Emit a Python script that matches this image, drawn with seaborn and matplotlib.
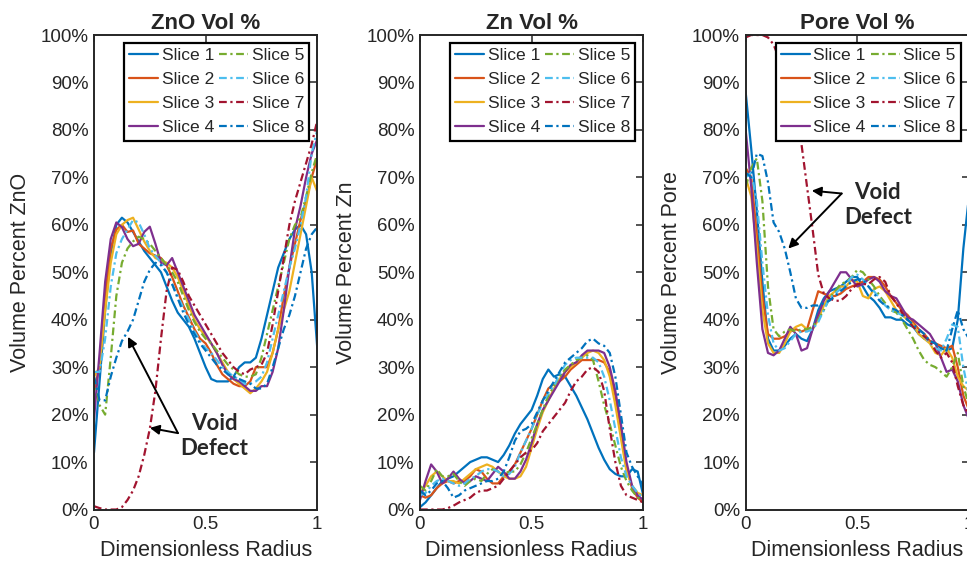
import numpy as np
import pandas as pd
import matplotlib
matplotlib.use("Agg")
import matplotlib.pyplot as plt
from matplotlib.ticker import PercentFormatter
import seaborn as sns

# dimensionless radius sample points
radius = [0.0, 0.025, 0.05, 0.075, 0.1, 0.125, 0.15, 0.175, 0.2, 0.225,
          0.25, 0.275, 0.3, 0.325, 0.35, 0.375, 0.4, 0.425, 0.45, 0.475,
          0.5, 0.525, 0.55, 0.575, 0.6, 0.625, 0.65, 0.675, 0.7, 0.725,
          0.75, 0.775, 0.8, 0.825, 0.85, 0.875, 0.9, 0.925, 0.95, 0.975,
          1.0]

slices = ["Slice 1", "Slice 2", "Slice 3", "Slice 4",
          "Slice 5", "Slice 6", "Slice 7", "Slice 8"]

# ZnO volume percent
zno_s1 = [12, 27, 42, 54, 60, 61.5, 60.5, 58.5, 56.5, 54.5,
          53, 51.5, 50, 47, 44, 41.5, 40, 38.5, 36, 33,
          30, 27.5, 27, 27, 27, 28, 30, 31, 31, 32,
          36, 41, 46, 51, 54, 57, 59, 60, 58, 50,
          34]
zno_s2 = [25, 30, 45, 55, 59, 60, 58.5, 58.8, 56, 55,
          54, 53.5, 53, 51.5, 49, 46, 43, 40.5, 38, 36,
          35, 33, 30.5, 28.5, 27.5, 26.5, 26, 26, 27, 30,
          30, 30, 33, 38, 45, 51, 56, 61, 65, 70,
          74]
zno_s3 = [28, 30, 42, 52, 58, 60, 61, 61.5, 59, 56.5,
          54.5, 53, 52.5, 52, 51, 49, 46, 43, 40, 38,
          36.5, 35, 33, 31, 29, 27.5, 26.5, 25.5, 24.5, 25.5,
          27, 29, 33, 38, 42, 46, 52, 58, 64, 70,
          67]
zno_s4 = [19, 33, 48, 57, 60.5, 59.5, 57, 55.5, 56, 58.5,
          59.6, 56, 52, 51.5, 53, 50, 47, 44, 41, 39,
          37, 35, 33, 30.5, 28.5, 27.5, 27, 26, 25, 25,
          26, 26, 29, 34, 42, 51, 59, 64, 70, 75,
          78]
zno_s5 = [28, 22, 20, 32, 45, 52, 55, 56.5, 57.5, 57,
          56, 54.5, 53, 51.5, 50, 48, 45, 42, 39.5, 37.5,
          36, 35, 33.5, 32, 30.5, 29.5, 28.5, 28, 28, 28.5,
          32, 37, 42, 47, 52, 57, 60, 61.5, 66, 71,
          75]
zno_s6 = [29, 29, 36, 47, 54, 57, 59, 61, 60.5, 58,
          55, 53.5, 52, 50, 47.5, 45, 42.5, 40, 37.5, 35.5,
          34, 33, 31.5, 30, 29, 28, 27.5, 26.5, 26.5, 27,
          28, 31, 36, 41, 46, 51, 55, 60, 66, 75,
          80]
zno_s7 = [0.7, 0.3, 0, 0, 0, 0.5, 2, 4, 7, 11.5,
          17, 25, 36, 46, 51, 50.5, 48, 45, 43, 41,
          39, 37, 35, 33, 31.5, 30, 29, 28.5, 29.5, 30,
          30.5, 33, 39, 46, 53, 60, 65, 69, 73, 77,
          82]
zno_s8 = [28, 23, 23, 28, 32, 35.5, 37.5, 40, 44, 48,
          50.5, 52, 51.5, 50, 47.5, 44.5, 41.5, 39, 37, 35,
          33.5, 32, 30.5, 29.5, 28.5, 28, 27.5, 27, 26.5, 25.5,
          25.5, 26.5, 30, 34, 38, 41, 45, 50, 55, 58,
          59.5]

# Zn volume percent
zn_s1 = [0.5, 1.5, 3, 4.5, 6, 6.5, 7, 8, 9, 10,
         10.5, 11, 11, 10.5, 10, 11.5, 13.5, 16, 18, 19.5,
         21, 24, 27.5, 29.5, 28, 28.5, 28, 26, 24, 21.5,
         19, 16, 13, 10.5, 8.5, 7.5, 7, 7, 8.5, 8,
         3]
zn_s2 = [3, 2.5, 3, 4.5, 5.5, 6, 5.5, 6, 6, 7,
         8.5, 8, 6.5, 5.5, 5.5, 7, 8, 9.5, 12, 14.5,
         17, 20, 23, 25.5, 26.5, 27, 28, 29.5, 30.5, 31.5,
         31.5, 31.5, 31.5, 31, 29, 24, 17, 9, 4.5, 2.5,
         1.5]
zn_s3 = [3.5, 5, 7, 8, 7, 6, 6, 5.5, 6.5, 7.5,
         8.5, 9, 9.5, 9, 8, 7, 6.5, 6.5, 7, 9,
         13, 17, 20.5, 23, 25.5, 27.5, 29, 30, 31, 32,
         33, 33.5, 33, 31.5, 28, 22, 15, 8, 5, 3.5,
         3]
zn_s4 = [2, 6, 9.5, 8, 5.5, 6.5, 8, 6.5, 5.5, 6,
         7, 6.5, 6, 7.5, 9, 8, 6.5, 6.5, 8, 10.5,
         14, 18, 21, 23, 25, 27, 29, 30.5, 31, 32.5,
         33.5, 33.5, 33.5, 33, 30, 25, 18, 10, 5, 3,
         2]
zn_s5 = [5, 4, 6, 8.5, 7, 7, 7.5, 6, 5, 6,
         6.5, 6, 7.5, 8.5, 8, 7.5, 8, 8, 9.5, 12,
         15, 18, 21, 24, 26, 28, 29.5, 30.5, 31.5, 32,
         32.5, 31.5, 27, 22, 18, 13.5, 9, 6, 4, 2.5,
         2]
zn_s6 = [3, 3.5, 5, 6, 6.5, 6, 5.5, 5, 5.5, 6.5,
         7, 8, 8.5, 8.5, 8, 7, 7.5, 9, 12, 14.5,
         17, 20, 22.5, 24.5, 26, 28.5, 30.5, 31.5, 32, 32,
         32, 32, 31, 28, 23, 17, 11, 7, 5, 3.5,
         2.5]
zn_s7 = [0, 0, 0, 0, 0, 0.3, 0.8, 1.5, 2, 2.5,
         3.5, 4, 4, 4.5, 5, 6.5, 8, 9.5, 11, 12,
         12.5, 14, 16.5, 18, 19.5, 21, 22.5, 25, 27, 28,
         29.5, 30, 29, 25, 17, 10, 5, 3, 2.5, 2,
         1.5]
zn_s8 = [4, 3, 4, 5.5, 6, 4.5, 2.5, 3, 4, 4.5,
         5, 5.5, 6, 6, 6.5, 8, 11, 14.5, 16.5, 17,
         18, 20.5, 23, 25, 27, 29, 31, 32, 33, 34,
         35.5, 36, 35, 34.5, 33, 28, 20, 12, 9, 7,
         5]

# Pore volume percent
pore_s1 = [88, 76, 63, 48, 36, 33.5, 33.5, 34.5, 36, 37,
           36, 35.5, 38, 42, 44.5, 46, 46.5, 47, 48, 49,
           49, 47, 45, 44, 42.5, 40.5, 40.5, 40, 40, 39,
           38.5, 37, 36, 35.5, 35, 34, 33.5, 34, 40, 55,
           66]
pore_s2 = [72, 70, 58, 45, 37, 36, 36, 36.5, 37.5, 38,
           37.5, 38, 42, 46, 45.5, 45, 45, 45.5, 46.5, 47,
           47.5, 48, 49, 49, 48.5, 47, 45, 43.5, 42, 41,
           39.5, 38, 37, 35.5, 35, 34.5, 34, 34.5, 30, 24,
           21]
pore_s3 = [70, 66, 55, 42, 35, 33, 33, 35, 37.5, 38.5,
           39, 38, 38, 40, 43, 45, 46, 47, 47, 48.5,
           48, 45, 44.5, 46.5, 47, 46, 44, 42, 41, 40,
           39, 37, 36, 35, 33, 32.5, 34, 32, 28, 26,
           25]
pore_s4 = [80, 68, 52, 38, 33, 32.5, 33.5, 36, 38.5, 37,
           33.5, 34, 38, 41, 44, 46, 48, 50, 50, 48.5,
           47, 47.5, 48.5, 49, 48, 46, 45, 44.5, 42.5, 40.5,
           40, 39, 38, 37, 35, 32, 29, 29.5, 27, 22,
           19]
pore_s5 = [68, 72, 74, 65, 47, 38, 36.5, 37.5, 38, 37.5,
           38, 38, 38.5, 40, 42, 44.5, 46, 47.5, 48, 49,
           50.5, 50, 48.5, 47, 45, 43.5, 42, 41.5, 40, 38,
           36, 33.5, 31.5, 30.5, 30, 29, 28, 30, 33, 26,
           22]
pore_s6 = [70, 71, 65, 52, 41, 35, 33.5, 34, 35.5, 37,
           37.5, 37.5, 38, 39.5, 42, 44.5, 45.5, 46.5, 47.5, 49,
           49.5, 48.5, 47, 46, 44.5, 43, 42, 41.5, 41, 40,
           38.5, 37.5, 36.5, 35, 34, 33.5, 36, 39, 38.5, 30,
           24]
pore_s7 = [99.5, 100, 100, 100, 99.5, 98, 95, 91, 87, 82,
           77, 68, 59, 49.5, 45.5, 44.5, 44, 44, 45, 46.5,
           47.5, 47.5, 47.5, 48.5, 49, 48, 45, 43.5, 41.5, 40,
           38.5, 37.5, 36.5, 35.5, 33.5, 32, 33, 31, 26, 22,
           20]
pore_s8 = [71, 70, 75, 74.5, 69, 60.5, 58.5, 55, 50, 44.5,
           42.5, 42.5, 43, 43, 43.5, 44, 45, 46, 47, 48,
           48.5, 48.5, 47, 45.5, 44, 43, 42.5, 42, 41, 40,
           39, 38, 37, 35.5, 35, 34, 33.5, 38, 42, 38,
           36]

panels = [
    ("ZnO Vol %", "Volume Percent ZnO",
     [zno_s1, zno_s2, zno_s3, zno_s4, zno_s5, zno_s6, zno_s7, zno_s8]),
    ("Zn Vol %", "Volume Percent Zn",
     [zn_s1, zn_s2, zn_s3, zn_s4, zn_s5, zn_s6, zn_s7, zn_s8]),
    ("Pore Vol %", "Volume Percent Pore",
     [pore_s1, pore_s2, pore_s3, pore_s4, pore_s5, pore_s6, pore_s7, pore_s8]),
]

# MATLAB default line colours
colors = ["#0072BD", "#D95319", "#EDB120", "#7E2F8E",
          "#77AC30", "#4DBEEE", "#A2142F", "#0072BD"]
palette = dict(zip(slices, colors))
dashdot = (3.5, 1.6, 1.0, 1.6)
dashes = {s: ("" if i < 4 else dashdot) for i, s in enumerate(slices)}

sns.set_style("white")
plt.rcParams["font.family"] = ["Liberation Sans", "DejaVu Sans"]
ink = "#262626"

fig = plt.figure(figsize=(9.67, 5.66), dpi=100)
lefts = [0.0972, 0.4343, 0.7711]
axes = [fig.add_axes([l, 0.0998, 0.2309, 0.8383]) for l in lefts]

for ax, (title, ylabel, series) in zip(axes, panels):
    df = pd.DataFrame({
        "radius": np.tile(radius, len(slices)),
        "value": np.concatenate(series),
        "slice": np.repeat(slices, len(radius)),
    })
    sns.lineplot(data=df, x="radius", y="value", hue="slice", style="slice",
                 hue_order=slices, style_order=slices, palette=palette,
                 dashes=dashes, estimator=None, errorbar=None, sort=False,
                 linewidth=1.6, legend=False, ax=ax)

    ax.set_xlim(0, 1)
    ax.set_ylim(0, 100)
    ax.set_xticks([0, 0.5, 1], ["0", "0.5", "1"])
    ax.set_yticks(np.arange(0, 101, 10))
    ax.yaxis.set_major_formatter(PercentFormatter(xmax=100, decimals=0))
    ax.tick_params(direction="in", top=True, right=True, length=5, width=1.1,
                   colors=ink, labelsize=13.5, pad=4)
    ax.tick_params(axis="x", pad=5)
    for sp in ax.spines.values():
        sp.set_color(ink)
        sp.set_linewidth(1.4)

    ax.set_title(title, fontsize=16, fontweight="bold", pad=4)
    ax.set_xlabel("Dimensionless Radius", fontsize=15.5, color=ink, labelpad=5)
    ax.set_ylabel(ylabel, fontsize=15.5, color=ink, labelpad=7)

    leg = ax.legend(ax.get_lines()[:8], slices, ncol=2, loc="upper right",
                    fontsize=12.6, frameon=True, fancybox=False, framealpha=1,
                    edgecolor="black", borderpad=0.3, labelspacing=0.5,
                    handlelength=1.65, handletextpad=0.2, columnspacing=0.3,
                    borderaxespad=0.45)
    leg.get_frame().set_linewidth(1.6)
    for t in leg.get_texts():
        t.set_color(ink)

note_font = dict(fontsize=16, fontweight="bold", family=["Lato", "DejaVu Sans"],
                 ha="center", va="center", linespacing=1.25)
arrow = dict(arrowstyle="-|>", color="black", lw=1.4, mutation_scale=14,
             shrinkA=0, shrinkB=0)

ax1 = axes[0]
ax1.text(0.54, 15.5, "Void\nDefect", **note_font)
ax1.annotate("", xy=(0.152, 36.4), xytext=(0.376, 16.1), arrowprops=arrow)
ax1.annotate("", xy=(0.25, 17.2), xytext=(0.376, 16.1), arrowprops=arrow)

ax3 = axes[2]
ax3.text(0.592, 64.2, "Void\nDefect", **note_font)
ax3.annotate("", xy=(0.296, 67.2), xytext=(0.43, 66.6), arrowprops=arrow)
ax3.annotate("", xy=(0.191, 55.0), xytext=(0.43, 66.6), arrowprops=arrow)

fig.savefig("out.png", dpi=100)
